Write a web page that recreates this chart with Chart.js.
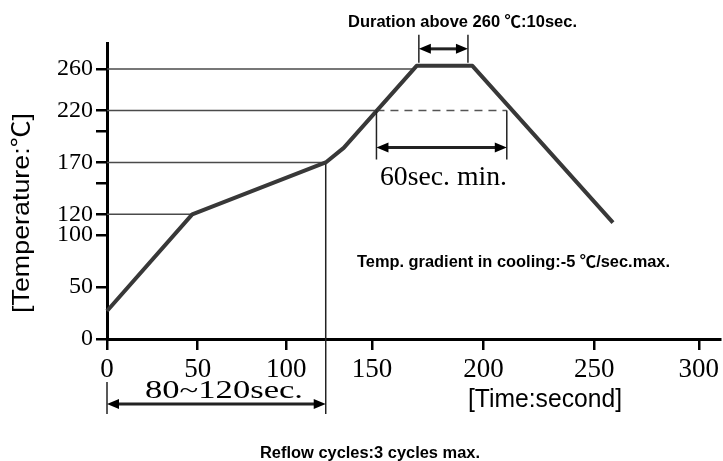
<!DOCTYPE html>
<html>
<head>
<meta charset="utf-8">
<script src="https://cdn.jsdelivr.net/npm/chart.js@4.4.0/dist/chart.umd.min.js"></script>
<style>
  html, body { margin: 0; padding: 0; background: #fff; }
  #wrap { width: 723px; height: 461px; }
</style>
</head>
<body>
<div id="wrap"><canvas id="reflowChart"></canvas></div>
<script>
(function(){
  'use strict';

  // Reflow profile (time in s, temperature in C)
  const profileTime = [0, 47, 123, 133.5, 170, 195, 259];
  const profileTemp = [27, 120, 170, 184, 263, 263, 112];

  // Horizontal guide levels and the time where each one meets the curve
  const guideLevels = [120, 170, 220, 260];
  const guideEnds = [47, 123, 152, 169];

  // 220 C dashed continuation and the vertical drop at the end of preheat
  const dashedTime = [152, 210.5];
  const preheatEnd = 123;

  // Dimension arrows (seconds)
  const preheatSpan = [0, 123];
  const soakSpan = [152, 210.5];
  const peakSpan = [171, 193];

  // Axis ticks
  const xTicks = [0, 50, 100, 150, 200, 250, 300];
  const yTicks = [0, 50, 100, 120, 150, 170, 200, 220, 260];
  const yLabels = [0, 50, 100, 120, 170, 220, 260];

  // The time axis of the original is hand drawn: tick spacing is not uniform.
  // Offsets (px) of each tick from the start of the axis.
  const X_WARP = [[0, 0], [50, 91], [100, 180], [150, 266], [200, 378], [250, 489], [300, 594], [310, 616]];
  const WARP_LEN = X_WARP[X_WARP.length - 1][1];

  function warp(v){
    for (let i = 1; i < X_WARP.length; i++) {
      const a = X_WARP[i - 1], b = X_WARP[i];
      if (v <= b[0] || i === X_WARP.length - 1) {
        return (a[1] + (v - a[0]) / (b[0] - a[0]) * (b[1] - a[1])) / WARP_LEN;
      }
    }
    return 0;
  }
  function unwarp(d){
    const p = d * WARP_LEN;
    for (let i = 1; i < X_WARP.length; i++) {
      const a = X_WARP[i - 1], b = X_WARP[i];
      if (p <= b[1] || i === X_WARP.length - 1) {
        return a[0] + (p - a[1]) / (b[1] - a[1]) * (b[0] - a[0]);
      }
    }
    return 0;
  }

  class WarpedScale extends Chart.LinearScale {
    getPixelForValue(value){
      if (value === null || isNaN(value)) return NaN;
      return this.getPixelForDecimal(warp(value));
    }
    getValueForPixel(pixel){
      return unwarp(this.getDecimalForPixel(pixel));
    }
  }
  WarpedScale.id = 'warped';
  WarpedScale.defaults = {};
  Chart.register(WarpedScale);

  const SANS = '"Liberation Sans", Arial, "Noto Sans CJK SC", sans-serif';
  const SERIF = '"Liberation Serif", "Times New Roman", "Noto Sans CJK SC", serif';

  function pts(xs, ys){ return xs.map((t, i) => ({ x: t, y: ys[i] })); }

  // text squeezed/stretched to the width it has in the drawing
  function fitText(ctx, str, left, right, baseline, font){
    ctx.font = font;
    const w = ctx.measureText(str).width;
    ctx.save();
    ctx.translate(left, baseline);
    ctx.scale((right - left) / w, 1);
    ctx.textAlign = 'left';
    ctx.textBaseline = 'alphabetic';
    ctx.fillText(str, 0, 0);
    ctx.restore();
  }

  function arrow(ctx, x1, x2, yy){
    const hl = 12, hw = 5;
    ctx.lineWidth = 3;
    ctx.beginPath();
    ctx.moveTo(x1 + hl - 2, yy);
    ctx.lineTo(x2 - hl + 2, yy);
    ctx.stroke();
    ctx.beginPath();
    ctx.moveTo(x1, yy); ctx.lineTo(x1 + hl, yy - hw); ctx.lineTo(x1 + hl, yy + hw); ctx.closePath();
    ctx.moveTo(x2, yy); ctx.lineTo(x2 - hl, yy - hw); ctx.lineTo(x2 - hl, yy + hw); ctx.closePath();
    ctx.fill();
  }

  function vline(ctx, xx, y1, y2){
    ctx.lineWidth = 1.5;
    ctx.beginPath();
    ctx.moveTo(xx, y1);
    ctx.lineTo(xx, y2);
    ctx.stroke();
  }

  const overlay = {
    id: 'reflowOverlay',
    afterDraw(chart){
      const { ctx } = chart;
      const xs = chart.scales.x, ys = chart.scales.y;
      const base = ys.getPixelForValue(0);
      ctx.save();
      ctx.strokeStyle = '#222';
      ctx.fillStyle = '#000';

      // preheat 80~120 sec
      const p0 = xs.getPixelForValue(preheatSpan[0]);
      const p1 = xs.getPixelForValue(preheatSpan[1]);
      vline(ctx, p0, base + 43, base + 75);
      vline(ctx, p1, base, base + 75);
      arrow(ctx, p0, p1, base + 65);

      // 60 sec min above 220
      const s0 = xs.getPixelForValue(soakSpan[0]);
      const s1 = xs.getPixelForValue(soakSpan[1]);
      const y220 = ys.getPixelForValue(220);
      vline(ctx, s0, y220, y220 + 49);
      vline(ctx, s1, y220, y220 + 49);
      arrow(ctx, s0, s1, y220 + 37);

      // 10 sec above 260
      const k0 = xs.getPixelForValue(peakSpan[0]);
      const k1 = xs.getPixelForValue(peakSpan[1]);
      const yTop = ys.getPixelForValue(263);
      vline(ctx, k0, yTop - 31, yTop - 3);
      vline(ctx, k1, yTop - 31, yTop - 3);
      arrow(ctx, k0, k1, yTop - 17);

      // texts
      fitText(ctx, 'Duration above 260 ℃:10sec.', 348, 577, 27, 'bold 16px ' + SANS);
      fitText(ctx, '60sec. min.', 380, 507, 185, '28px ' + SERIF);
      fitText(ctx, '80~120sec.', 145, 303, 398, '26px ' + SERIF);
      fitText(ctx, 'Temp. gradient in cooling:-5 ℃/sec.max.', 357, 670, 267, 'bold 16px ' + SANS);
      fitText(ctx, '[Time:second]', 468, 622, 407, '26px ' + SANS);
      fitText(ctx, 'Reflow cycles:3 cycles max.', 260, 480, 458, 'bold 16px ' + SANS);

      ctx.save();
      ctx.translate(29, 313);
      ctx.rotate(-Math.PI / 2);
      fitText(ctx, '[Temperature:℃]', 0, 200, 0, '24px ' + SANS);
      ctx.restore();

      ctx.restore();
    }
  };

  function initReflowChart(){
    const el = document.getElementById('reflowChart');
    if (!el) return;

    const datasets = [{
      data: pts(profileTime, profileTemp),
      borderColor: '#383838',
      borderWidth: 4,
      borderJoinStyle: 'round',
      pointRadius: 0,
      tension: 0,
      clip: false
    }];

    guideLevels.forEach((lvl, i) => {
      datasets.push({
        data: [{ x: 0, y: lvl }, { x: guideEnds[i], y: lvl }],
        borderColor: '#4a4a4a',
        borderWidth: 1.5,
        pointRadius: 0,
        clip: false
      });
    });

    datasets.push({
      data: dashedTime.map(t => ({ x: t, y: 220 })),
      borderColor: '#555',
      borderWidth: 1.5,
      borderDash: [8, 6],
      pointRadius: 0,
      clip: false
    });

    datasets.push({
      data: [{ x: preheatEnd, y: 170 }, { x: preheatEnd, y: 0 }],
      borderColor: '#222',
      borderWidth: 1.5,
      pointRadius: 0,
      clip: false
    });

    new Chart(el.getContext('2d'), {
      type: 'line',
      data: { datasets: datasets },
      options: {
        responsive: true,
        maintainAspectRatio: false,
        animation: false,
        events: [],
        layout: { padding: { top: 43, right: 0, left: 0, bottom: 0 } },
        plugins: { legend: { display: false }, tooltip: { enabled: false } },
        scales: {
          x: {
            type: 'warped',
            min: 0,
            max: 310,
            afterBuildTicks: (s) => { s.ticks = xTicks.map(v => ({ value: v })); },
            afterFit: (s) => { s.height = 122; },
            border: { color: '#000', width: 3 },
            grid: { drawOnChartArea: false, drawTicks: true, tickLength: 11, color: '#000', lineWidth: 2.5 },
            ticks: {
              autoSkip: false,
              maxRotation: 0,
              padding: 4,
              color: '#000',
              font: { family: SERIF, size: 27 }
            }
          },
          y: {
            type: 'linear',
            min: 0,
            max: 285,
            afterBuildTicks: (s) => { s.ticks = yTicks.map(v => ({ value: v })); },
            afterFit: (s) => { s.width = 107; },
            border: { color: '#000', width: 3 },
            grid: { drawOnChartArea: false, drawTicks: true, tickLength: 11, color: '#000', lineWidth: 2.5 },
            ticks: {
              autoSkip: false,
              padding: 3,
              color: '#000',
              font: { family: SERIF, size: 24 },
              callback: (v) => yLabels.indexOf(v) >= 0 ? String(v) : ''
            }
          }
        }
      },
      plugins: [overlay]
    });
  }

  if (document.readyState === 'loading') {
    document.addEventListener('DOMContentLoaded', initReflowChart);
  } else {
    initReflowChart();
  }
})();
</script>
</body>
</html>
